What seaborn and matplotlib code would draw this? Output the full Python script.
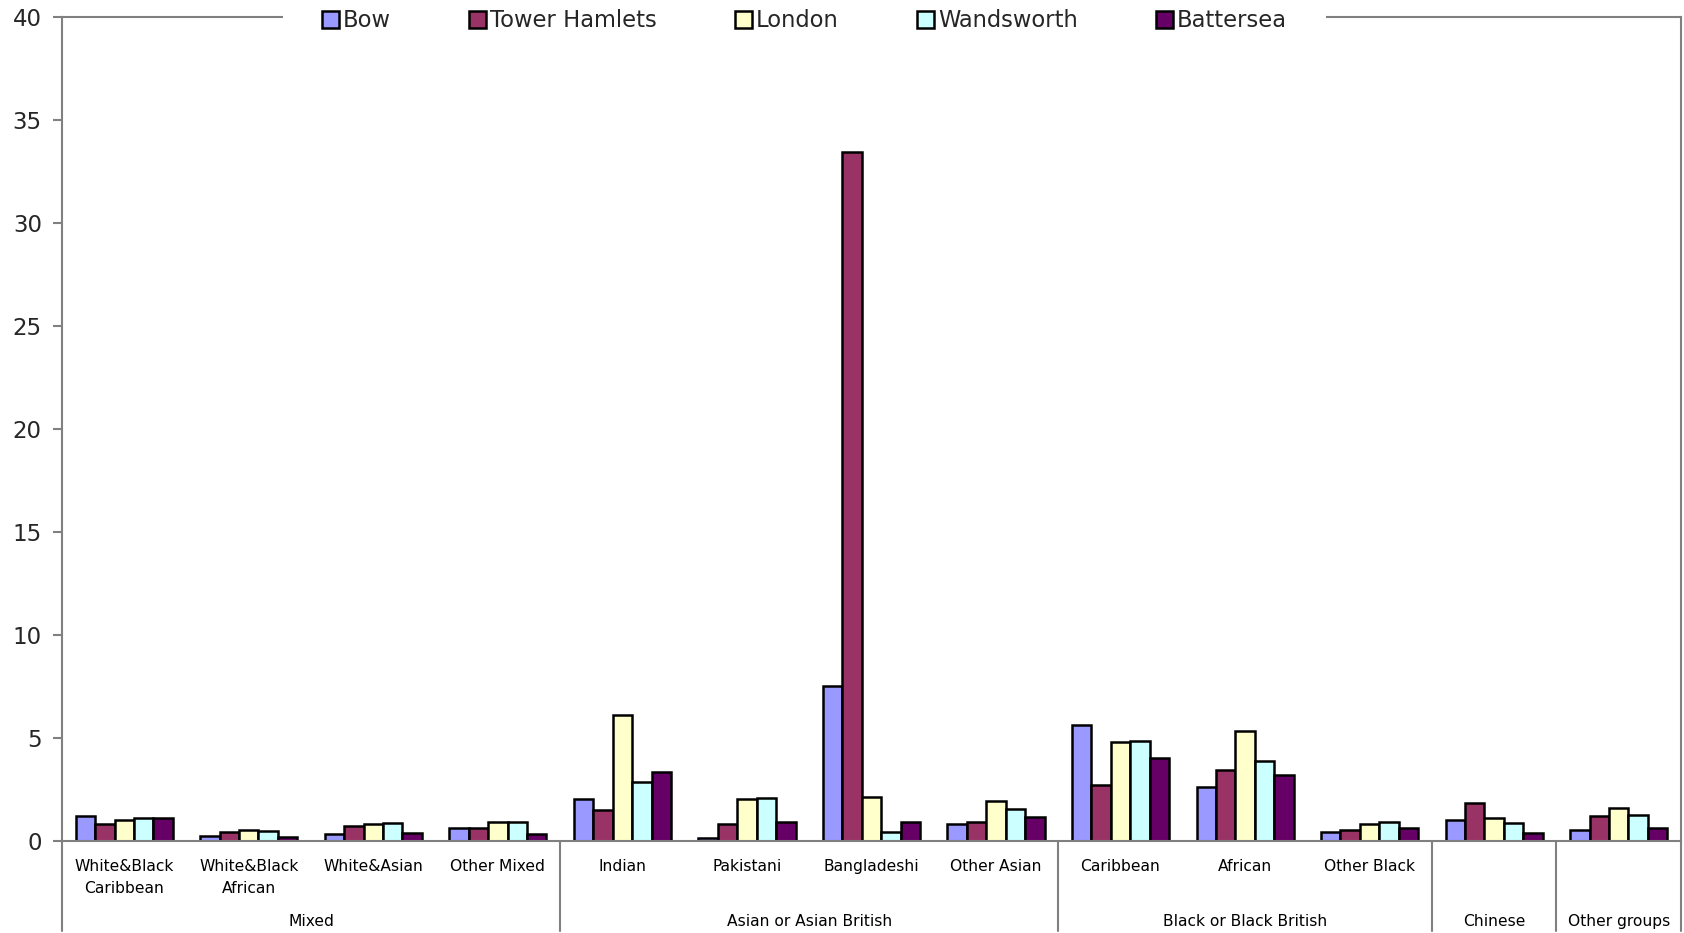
import matplotlib
matplotlib.use("Agg")
import matplotlib.pyplot as plt
import matplotlib.transforms as mtransforms
from matplotlib.lines import Line2D
import pandas as pd
import seaborn as sns

# Ethnic group categories (two-level axis: sub-group, then group)
categories = [
    "White&Black\nCaribbean", "White&Black\nAfrican", "White&Asian", "Other Mixed",
    "Indian", "Pakistani", "Bangladeshi", "Other Asian",
    "Caribbean", "African", "Other Black",
    "Chinese",
    "Other groups",
]
sub_labels = [
    "White&Black\nCaribbean", "White&Black\nAfrican", "White&Asian", "Other Mixed",
    "Indian", "Pakistani", "Bangladeshi", "Other Asian",
    "Caribbean", "African", "Other Black",
    "", "",
]
groups = ["Mixed", "Asian or Asian British", "Black or Black British", "Chinese", "Other groups"]
group_sizes = [4, 4, 3, 1, 1]

areas = ["Bow", "Tower Hamlets", "London", "Wandsworth", "Battersea"]

# Percentage of population in each ethnic group
bow = [1.2, 0.2, 0.3, 0.6, 2.0, 0.1, 7.5, 0.8, 5.6, 2.6, 0.4, 1.0, 0.5]
tower_hamlets = [0.8, 0.4, 0.7, 0.6, 1.5, 0.8, 33.4, 0.9, 2.7, 3.4, 0.5, 1.8, 1.2]
london = [1.0, 0.5, 0.8, 0.9, 6.1, 2.0, 2.1, 1.9, 4.8, 5.3, 0.8, 1.1, 1.6]
wandsworth = [1.1, 0.45, 0.85, 0.9, 2.85, 2.05, 0.4, 1.55, 4.85, 3.85, 0.9, 0.85, 1.25]
battersea = [1.1, 0.15, 0.35, 0.3, 3.35, 0.9, 0.9, 1.15, 4.0, 3.2, 0.6, 0.35, 0.6]

y_ticks = [0, 5, 10, 15, 20, 25, 30, 35, 40]

colors = ["#9999FF", "#993366", "#FFFFCC", "#CCFFFF", "#660066"]

series = [bow, tower_hamlets, london, wandsworth, battersea]
df = pd.DataFrame(
    [(cat, area, v) for area, vals in zip(areas, series) for cat, v in zip(categories, vals)],
    columns=["category", "area", "value"],
)

sns.set_style("white")
plt.rcParams["font.family"] = ["DejaVu Sans"]

fig = plt.figure(figsize=(16.84, 9.33), dpi=100)
ax = fig.add_axes([0.0368, 0.0991, 0.9614, 0.8832])

sns.barplot(
    data=df, x="category", y="value", hue="area",
    order=categories, hue_order=areas,
    palette=dict(zip(areas, colors)), saturation=1,
    edgecolor="black", linewidth=1.8, width=0.78,
    errorbar=None, ax=ax,
)

ax.set_xlim(-0.5, len(categories) - 0.5)
ax.set_ylim(0, 40)
ax.set_yticks(y_ticks)
ax.set_yticklabels([str(t) for t in y_ticks], fontsize=16.5)
ax.set_xticks([])
ax.set_xlabel("")
ax.set_ylabel("")

spine_color = "#808080"
for side in ["left", "right", "top", "bottom"]:
    ax.spines[side].set_visible(True)
    ax.spines[side].set_color(spine_color)
    ax.spines[side].set_linewidth(1.5)
ax.tick_params(axis="y", which="major", direction="out", length=6.5, width=1.5,
               color=spine_color, pad=8, left=True)

# Category and group labels under the axis
trans = mtransforms.blended_transform_factory(ax.transData, ax.transAxes)
for i, lab in enumerate(sub_labels):
    for j, line in enumerate(lab.split("\n")):
        if line:
            ax.text(i, -0.0368 - 0.0263 * j, line, transform=trans, ha="center",
                    va="baseline", fontsize=11.2, color="black")

start = 0
bounds = [-0.5]
for name, n in zip(groups, group_sizes):
    center = start + (n - 1) / 2
    ax.text(center, -0.1035, name, transform=trans, ha="center", va="baseline",
            fontsize=11.2, color="black")
    start += n
    bounds.append(start - 0.5)

for b in bounds:
    ax.add_line(Line2D([b, b], [0, -0.11], transform=trans, color=spine_color,
                       linewidth=1.5, clip_on=False))

# Legend across the top edge
handles, labels = ax.get_legend_handles_labels()
if ax.get_legend() is not None:
    ax.get_legend().remove()
leg = ax.legend(
    handles, labels, ncol=5, loc="center",
    bbox_to_anchor=(0.4777, 0.9775), bbox_transform=fig.transFigure,
    fontsize=16.3, frameon=True, facecolor="white", edgecolor="none", framealpha=1,
    fancybox=False, borderpad=1.73, handlelength=0.75, handleheight=0.75,
    handletextpad=0.18, columnspacing=3.45, borderaxespad=0,
)
leg.set_zorder(5)

fig.savefig("out.png", dpi=100)
